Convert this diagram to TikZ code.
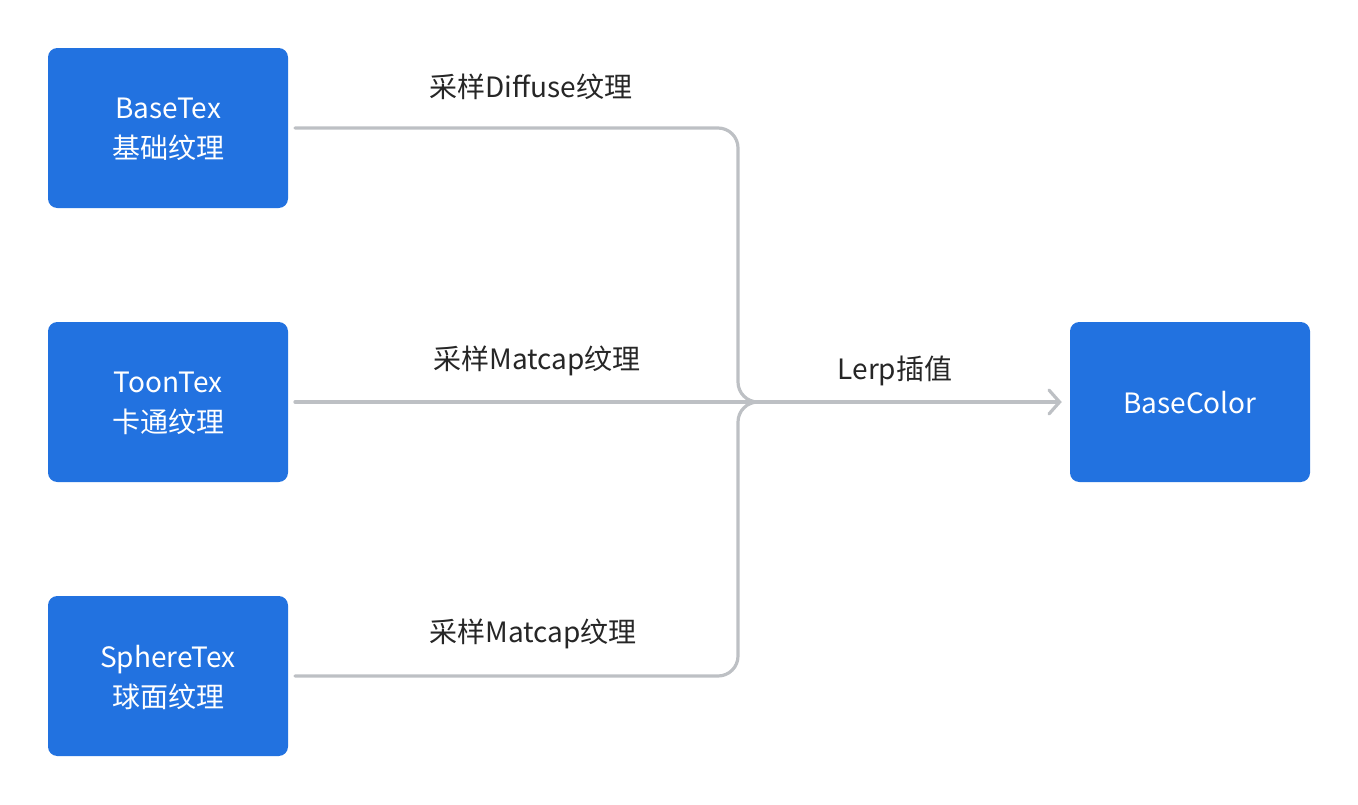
\documentclass[tikz,border=0pt]{standalone}
\usepackage{fontspec}
\setmainfont{Noto Sans CJK SC}
\usepackage{xcolor}
\usepackage{tikz}
\usetikzlibrary{arrows.meta, positioning, calc}

\definecolor{boxblue}{HTML}{2272E0}
\definecolor{linegray}{HTML}{BDC0C4}
\definecolor{textdark}{HTML}{262626}

\begin{document}
\begin{tikzpicture}[
    x=0.75pt, y=-0.75pt,
    box/.style={fill=boxblue, rounded corners=7pt, minimum height=120pt, minimum width=180pt, align=center, text=white, font=\fontsize{21}{30}\selectfont, text depth=0pt},
    conn/.style={draw=linegray, line width=2.4pt, line cap=round, rounded corners=15pt},
    arrow/.style={conn, -{Straight Barb[length=8pt, width=18pt, line cap=round]}},
    label/.style={font=\fontsize{21}{24}\selectfont, text=textdark},
]

% Canvas
\useasboundingbox (0,0) rectangle (1358,804);

% Input textures
\node[box] (basetex) at (168,128) {BaseTex\\基础纹理};
\node[box] (toontex) at (168,402) {ToonTex\\卡通纹理};
\node[box] (spheretex) at (168,676) {SphereTex\\球面纹理};

% Output
\node[box] (basecolor) at (1190,402) {BaseColor};

% Merge point
\coordinate (bend) at (738,402);
\coordinate (merge) at (762,402);

% Labels
\node[label] (difflbl) at (531,87) {采样Diffuse纹理};
\node[label] (toonlbl) at (537,361) {采样Matcap纹理};
\node[label] (spherelbl) at (533,634) {采样Matcap纹理};
\node[label] (lerplbl) at (895,371) {Lerp插值};

% --- Connectors ---
\draw[conn, shorten <=5pt] (basetex.east) -- (basetex.east -| bend) -- (bend) -- (merge);
\draw[conn, shorten <=5pt] (spheretex.east) -- (spheretex.east -| bend) -- (bend) -- (merge);
\draw[arrow, shorten <=5pt, shorten >=6pt] (toontex) -- (basecolor);

\end{tikzpicture}
\end{document}
